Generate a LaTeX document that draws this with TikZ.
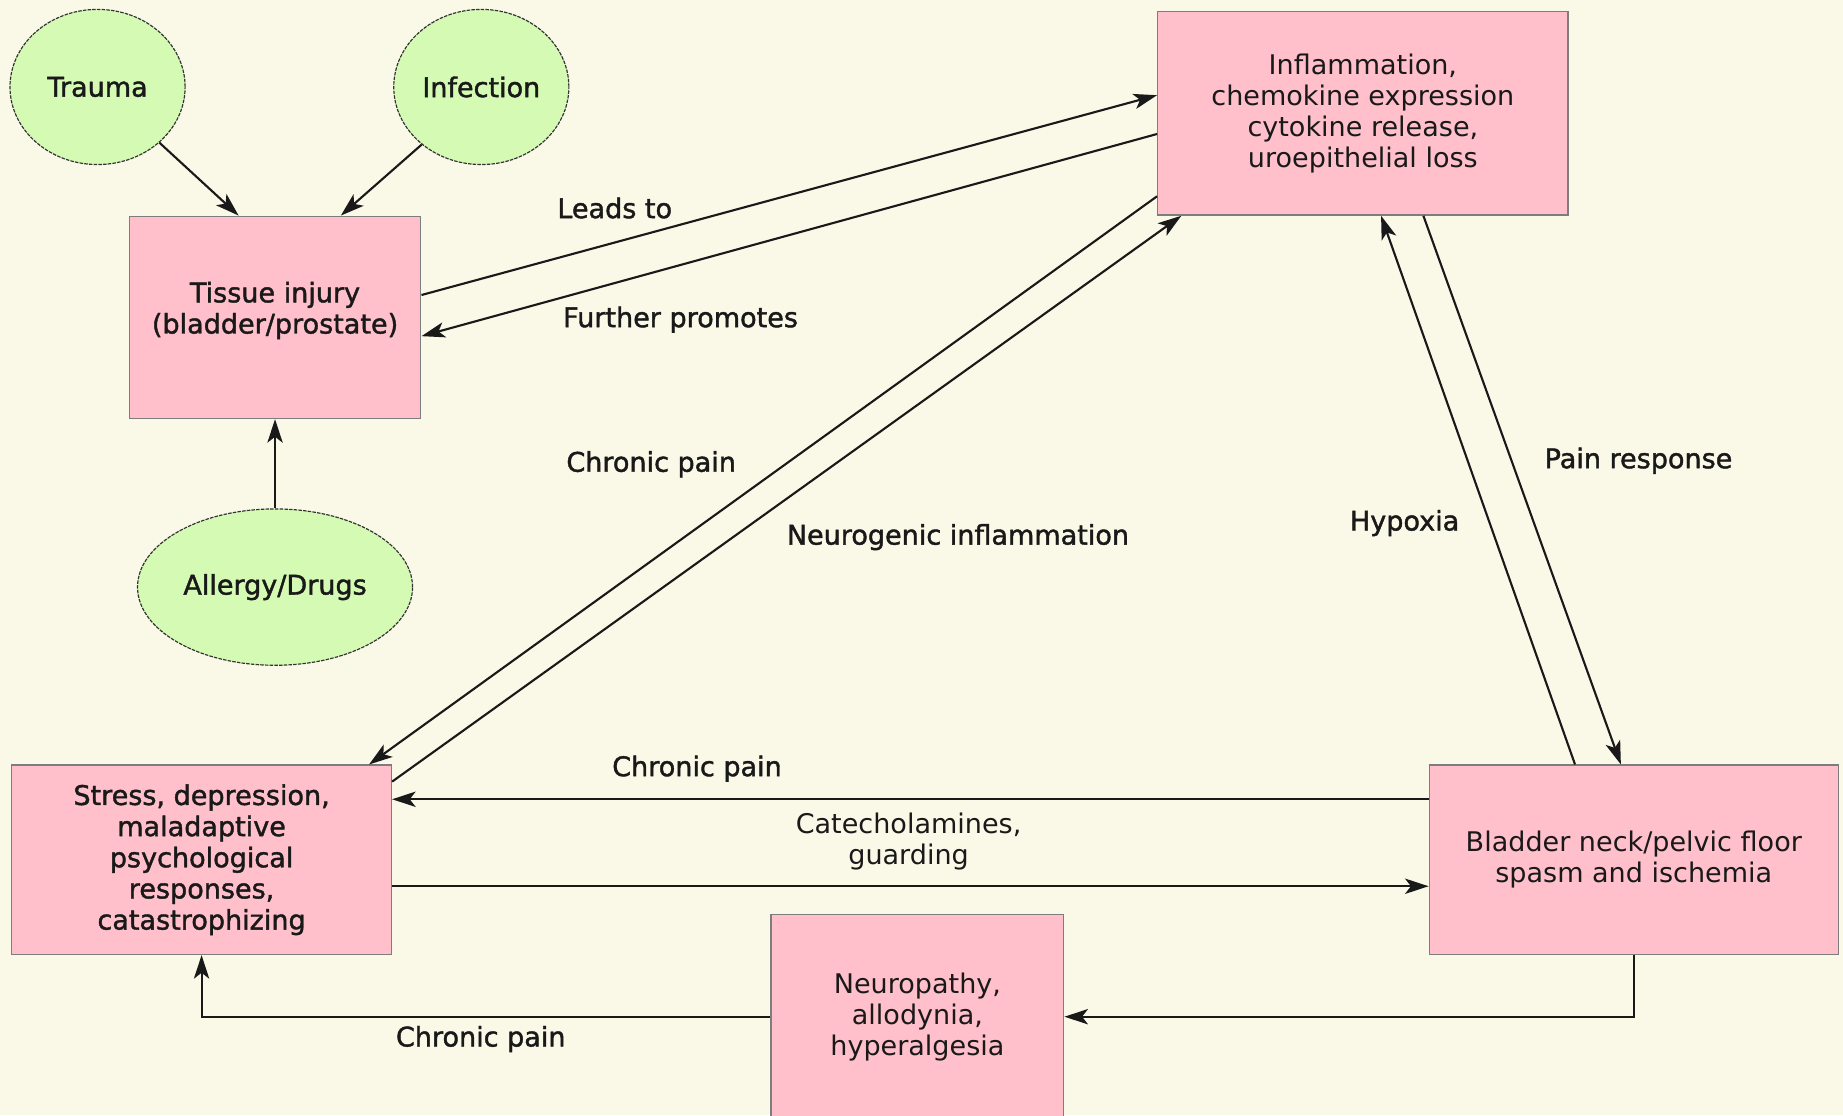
\documentclass[tikz,border=0pt]{standalone}
\usepackage{fontspec}
\setmainfont{DejaVu Sans}
\newfontfamily\semib[FakeBold=1.5]{DejaVu Sans}
\usetikzlibrary{shapes.geometric,arrows.meta}
\definecolor{bg}{RGB}{250,249,232}
\definecolor{pinkfill}{RGB}{255,192,203}
\definecolor{greenfill}{RGB}{212,250,180}
\definecolor{boxline}{RGB}{125,125,125}
\definecolor{txt}{RGB}{25,25,25}
\begin{document}
\begin{tikzpicture}[x=1pt,y=-1pt,
  font=\fontsize{23}{26.5}\selectfont\semib, text=txt,
  pbox/.style={draw=boxline, line width=1.2pt, fill=pinkfill, align=center, inner sep=0pt},
  reg/.style={font=\fontsize{23}{26.5}\selectfont\rmfamily},
  gcirc/.style={ellipse, draw=black!80, dash pattern=on 3pt off 1pt, line width=1pt, fill=greenfill, inner sep=0pt},
  conn/.style={line width=1.8pt, draw=black!90, -{Stealth[length=20pt,width=13pt,inset=5pt]}},
  lbl/.style={text=txt, inner sep=0pt}]
\fill[bg] (0,0) rectangle (1568,949);
\useasboundingbox (0,0) rectangle (1568,949);

% nodes
\node[gcirc, minimum width=149pt, minimum height=132pt] (trauma) at (83,74) {Trauma};
\node[gcirc, minimum width=149pt, minimum height=132pt] (infection) at (409.5,74) {Infection};
\node[gcirc, minimum width=234pt, minimum height=133pt] (allergy) at (234,499.5) {Allergy/Drugs};
\node[pbox, minimum width=248pt, minimum height=172pt] (tissue) at (234,270) {Tissue injury\\(bladder/prostate)\\[-10pt]\mbox{}};
\node[pbox, reg, minimum width=349pt, minimum height=173pt] (inflam) at (1159.5,96.5) {Inflammation,\\chemokine expression\\cytokine release,\\uroepithelial loss};
\node[pbox, minimum width=323pt, minimum height=161pt] (stress) at (171.5,731.5) {Stress, depression,\\maladaptive\\psychological\\responses,\\catastrophizing};
\node[pbox, reg, minimum width=348pt, minimum height=161pt] (bladder) at (1390,731.5) {Bladder neck/pelvic floor\\spasm and ischemia};
\node[pbox, reg, minimum width=249pt, minimum height=174pt] (neuro) at (780.5,865) {Neuropathy,\\allodynia,\\hyperalgesia};

% connectors
\draw[conn] (trauma.-42) -- ([xshift=-31pt]tissue.north);
\draw[conn] (infection.224) -- ([xshift=56pt]tissue.north);
\draw[conn] (allergy.north) -- (tissue.south);
\draw[conn] ([yshift=19pt]tissue.east) -- ([yshift=15.5pt]inflam.west);
\draw[conn] ([yshift=-17.5pt]inflam.west) -- ([yshift=-16pt]tissue.east);
\draw[conn] ([yshift=-70.5pt]inflam.west) -- ([xshift=142.5pt]stress.north);
\draw[conn] ([yshift=66.5pt]stress.east) -- ([xshift=-154.5pt]inflam.south);
\draw[conn] ([xshift=-50pt]bladder.north) -- ([xshift=15.5pt]inflam.south);
\draw[conn] ([xshift=51.5pt]inflam.south) -- ([xshift=-11pt]bladder.north);
\draw[conn] ([yshift=51.5pt]bladder.west) -- ([yshift=51.5pt]stress.east);
\draw[conn] ([yshift=-22.5pt]stress.east) -- ([yshift=-22.5pt]bladder.west);
\draw[conn] (bladder.south) |- (neuro.east);
\draw[conn] (neuro.west) -| (stress.south);

% labels
\node[lbl] (lleads) at (523,177) {Leads to};
\node[lbl] (lfurther) at (579,272) {Further promotes};
\node[lbl] (lchron1) at (554,395) {Chronic pain};
\node[lbl] (lneuro) at (815,457) {Neurogenic inflammation};
\node[lbl] (lhypox) at (1195,445) {Hypoxia};
\node[lbl] (lpain) at (1394,392) {Pain response};
\node[lbl] (lchron2) at (593,654) {Chronic pain};
\node[lbl, reg, align=center] (lcat) at (773,716) {Catecholamines,\\guarding};
\node[lbl] (lchron3) at (409,884) {Chronic pain};
\end{tikzpicture}
\end{document}
